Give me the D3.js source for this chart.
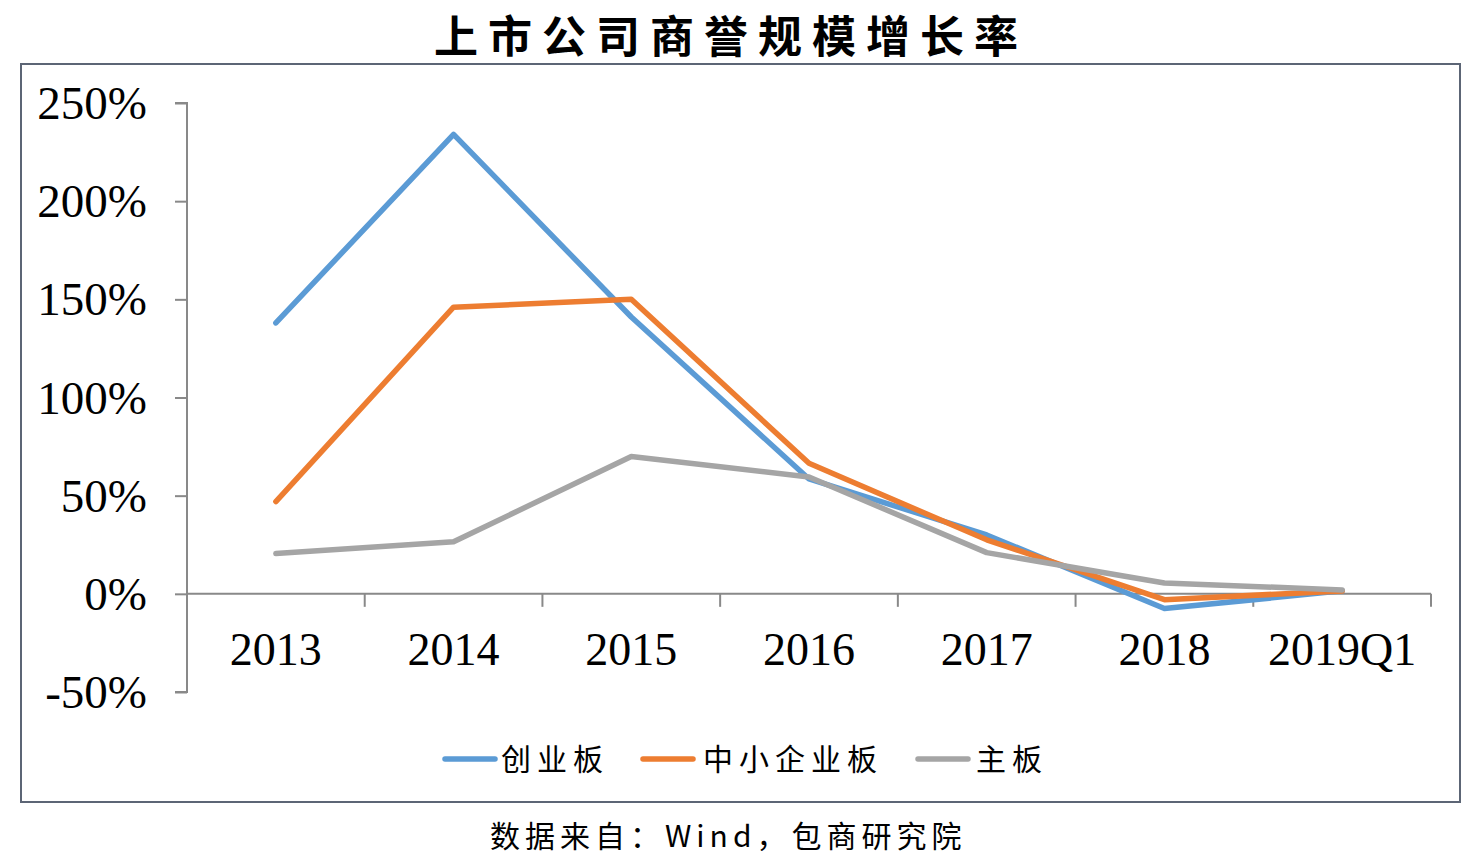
<!DOCTYPE html>
<html>
<head>
<meta charset="utf-8">
<script src="https://cdn.jsdelivr.net/npm/d3@7"></script>
<style>
  body { margin: 0; background: #fff; }
  svg { display: block; }
</style>
</head>
<body>
<svg id="chart" width="1484" height="862"></svg>
<script>
// données
const categories = ["2013", "2014", "2015", "2016", "2017", "2018", "2019Q1"];
const chuangye = [138, 234, 141, 58.5, 30, -7.5, 1.5];
const zhongxiao = [47, 146, 150, 66.5, 27.5, -3, 1.5];
const zhuban = [20.5, 26.5, 70, 59.5, 21, 5.5, 2];
const yTicks = [-50, 0, 50, 100, 150, 200, 250];

const series = [
  { name: "创业板", values: chuangye, color: "#5B9BD5" },
  { name: "中小企业板", values: zhongxiao, color: "#ED7D31" },
  { name: "主板", values: zhuban, color: "#A5A5A5" },
];

const svg = d3.select("#chart");
const serif = "'Liberation Serif', 'Times New Roman', serif";
const cjk = "'Noto Sans CJK SC', sans-serif";

// titre
svg.append("text")
  .attr("x", 731).attr("y", 53)
  .attr("text-anchor", "middle")
  .attr("font-family", cjk)
  .attr("font-weight", 700)
  .attr("font-size", 44)
  .attr("letter-spacing", 10)
  .text("上市公司商誉规模增长率");

// cadre
svg.append("rect")
  .attr("x", 21).attr("y", 64)
  .attr("width", 1439).attr("height", 738)
  .attr("fill", "none")
  .attr("stroke", "#5c6575")
  .attr("stroke-width", 2);

const x = d3.scaleBand().domain(categories).range([187, 1431]);
const y = d3.scaleLinear().domain([-50, 250]).range([692, 103]);

const axisColor = "#898989";

// axe Y
const yAxis = svg.append("g")
  .attr("transform", "translate(187,0)")
  .call(d3.axisLeft(y).tickValues(yTicks).tickSize(12).tickPadding(28)
    .tickFormat(d => d + "%"));
yAxis.select(".domain").attr("stroke", axisColor).attr("stroke-width", 2)
  .attr("d", `M-12,${y(250)}H0V${y(-50)}H-12`);
yAxis.selectAll(".tick line").attr("stroke", axisColor).attr("stroke-width", 2);
yAxis.selectAll(".tick text")
  .attr("font-family", serif).attr("font-size", 47).attr("fill", "#000")
  .attr("dy", "0.33em");

// axe X (ligne zéro)
const xAxisG = svg.append("g").attr("transform", `translate(0,${y(0)})`);
xAxisG.append("line")
  .attr("x1", 187).attr("x2", 1431)
  .attr("stroke", axisColor).attr("stroke-width", 2);
const bounds = categories.map(c => x(c) + x.bandwidth());
xAxisG.selectAll(".xt").data(bounds).join("line")
  .attr("x1", d => d).attr("x2", d => d)
  .attr("y1", 0).attr("y2", 13)
  .attr("stroke", axisColor).attr("stroke-width", 2);
xAxisG.selectAll(".xl").data(categories).join("text")
  .attr("x", d => x(d) + x.bandwidth() / 2)
  .attr("y", 71)
  .attr("text-anchor", "middle")
  .attr("font-family", serif).attr("font-size", 46)
  .text(d => d);

// courbes
const line = d3.line()
  .x((d, i) => x(categories[i]) + x.bandwidth() / 2)
  .y(d => y(d));

svg.selectAll(".serie").data(series).join("path")
  .attr("d", d => line(d.values))
  .attr("fill", "none")
  .attr("stroke", d => d.color)
  .attr("stroke-width", 5.5)
  .attr("stroke-linecap", "round")
  .attr("stroke-linejoin", "round");

// légende
const legendItems = [
  { x: 445, tx: 501 },
  { x: 643, tx: 703 },
  { x: 918, tx: 976 },
];
const lg = svg.append("g");
series.forEach((s, i) => {
  const p = legendItems[i];
  lg.append("line")
    .attr("x1", p.x).attr("x2", p.x + 50)
    .attr("y1", 759).attr("y2", 759)
    .attr("stroke", s.color).attr("stroke-width", 5.5)
    .attr("stroke-linecap", "round");
  lg.append("text")
    .attr("x", p.tx).attr("y", 770)
    .attr("font-family", cjk).attr("font-size", 30)
    .attr("letter-spacing", 6)
    .text(s.name);
});

// source
svg.append("text")
  .attr("x", 490).attr("y", 847)
  .attr("font-family", cjk).attr("font-size", 30)
  .attr("letter-spacing", 5)
  .text("数据来自：Wind，包商研究院");
</script>
</body>
</html>
